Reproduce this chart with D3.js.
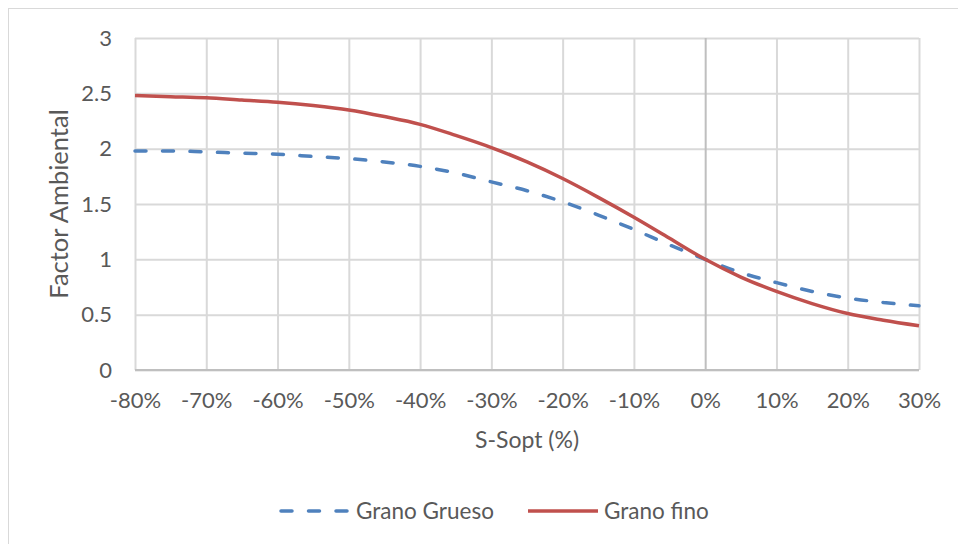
<!DOCTYPE html>
<html>
<head>
<meta charset="utf-8">
<script src="https://cdn.jsdelivr.net/npm/d3@7"></script>
<style>
  html, body { margin: 0; padding: 0; background: #fff; }
  svg { display: block; }
  text { font-family: Lato, "Open Sans", sans-serif; fill: #595959; }
</style>
</head>
<body>
<svg id="chart" width="958" height="544"></svg>
<script>
// Moisture deviation from optimum, S - Sopt (%)
const xValues = [-80, -75, -70, -65, -60, -55, -50, -45, -40, -35, -30, -25, -20, -15, -10, -5, 0, 5, 10, 15, 20, 25, 30];

// Environmental factor for coarse-grained soils
const granoGrueso = [1.98, 1.98, 1.97, 1.96, 1.95, 1.93, 1.91, 1.88, 1.84, 1.78, 1.70, 1.62, 1.52, 1.40, 1.27, 1.13, 1.00, 0.88, 0.79, 0.71, 0.65, 0.61, 0.58];

// Environmental factor for fine-grained soils
const granoFino = [2.48, 2.47, 2.46, 2.44, 2.42, 2.39, 2.35, 2.29, 2.22, 2.12, 2.01, 1.88, 1.73, 1.56, 1.38, 1.19, 1.00, 0.84, 0.71, 0.60, 0.51, 0.45, 0.40];

const xTicks = [-80, -70, -60, -50, -40, -30, -20, -10, 0, 10, 20, 30];
const yTicks = [0, 0.5, 1, 1.5, 2, 2.5, 3];

const seriesNames = ["Grano Grueso", "Grano fino"];
const seriesColors = ["#4f81bd", "#c0504d"];

const svg = d3.select("#chart");

// chart frame
svg.append("rect")
  .attr("x", 8.5).attr("y", 8.5)
  .attr("width", 960).attr("height", 560)
  .attr("fill", "#fff").attr("stroke", "#d9d9d9").attr("stroke-width", 1);

const plot = { left: 135, right: 919, top: 38, bottom: 370 };

const x = d3.scaleLinear().domain([-80, 30]).range([plot.left, plot.right]);
const y = d3.scaleLinear().domain([0, 3]).range([plot.bottom, plot.top]);

// horizontal gridlines
const yAxis = d3.axisLeft(y).tickValues(yTicks).tickSize(-(plot.right - plot.left)).tickPadding(23)
  .tickFormat(d => String(d));
const gy = svg.append("g").attr("transform", `translate(${plot.left},0)`).call(yAxis);
gy.select(".domain").remove();
gy.selectAll(".tick line").attr("stroke", "#d9d9d9").attr("stroke-width", 2);
gy.selectAll(".tick text").attr("font-size", 22).attr("fill", "#595959")
  .style("font-family", "Lato, 'Open Sans', sans-serif");

// vertical gridlines
const xAxis = d3.axisBottom(x).tickValues(xTicks).tickSize(-(plot.bottom - plot.top)).tickPadding(22)
  .tickFormat(d => d + "%");
const gx = svg.append("g").attr("transform", `translate(0,${plot.bottom})`).call(xAxis);
gx.select(".domain").remove();
gx.selectAll(".tick line")
  .attr("stroke", d => d === 0 ? "#bfbfbf" : "#d9d9d9")
  .attr("stroke-width", 2);
gx.selectAll(".tick text").attr("font-size", 22).attr("fill", "#595959")
  .style("font-family", "Lato, 'Open Sans', sans-serif");

// horizontal axis baseline
svg.append("line")
  .attr("x1", plot.left).attr("x2", plot.right)
  .attr("y1", y(0)).attr("y2", y(0))
  .attr("stroke", "#bfbfbf").attr("stroke-width", 2);

// axis titles
svg.append("text")
  .attr("transform", `translate(68,204) rotate(-90)`)
  .attr("text-anchor", "middle")
  .attr("font-size", 25.5)
  .text("Factor Ambiental");

svg.append("text")
  .attr("x", (plot.left + plot.right) / 2)
  .attr("y", 448)
  .attr("text-anchor", "middle")
  .attr("font-size", 23)
  .text("S-Sopt (%)");

// series lines
const line = d3.line()
  .x((d, i) => x(xValues[i]))
  .y(d => y(d))
  .curve(d3.curveMonotoneX);

svg.append("path")
  .datum(granoGrueso)
  .attr("d", line)
  .attr("fill", "none")
  .attr("stroke", seriesColors[0])
  .attr("stroke-width", 3.5)
  .attr("stroke-dasharray", "11,16.5")
  .attr("stroke-linecap", "round");

svg.append("path")
  .datum(granoFino)
  .attr("d", line)
  .attr("fill", "none")
  .attr("stroke", seriesColors[1])
  .attr("stroke-width", 3.5)
  .attr("stroke-linecap", "butt");

// legend
const legend = svg.append("g");
const legendY = 511;
legend.append("line")
  .attr("x1", 281).attr("x2", 349).attr("y1", legendY).attr("y2", legendY)
  .attr("stroke", seriesColors[0]).attr("stroke-width", 3.5)
  .attr("stroke-dasharray", "11,16.5").attr("stroke-linecap", "round");
legend.append("text")
  .attr("x", 356).attr("y", legendY + 8)
  .attr("font-size", 22.5)
  .text(seriesNames[0]);
legend.append("line")
  .attr("x1", 528).attr("x2", 598).attr("y1", legendY).attr("y2", legendY)
  .attr("stroke", seriesColors[1]).attr("stroke-width", 3.5);
legend.append("text")
  .attr("x", 604).attr("y", legendY + 8)
  .attr("font-size", 22.5)
  .text(seriesNames[1]);
</script>
</body>
</html>
